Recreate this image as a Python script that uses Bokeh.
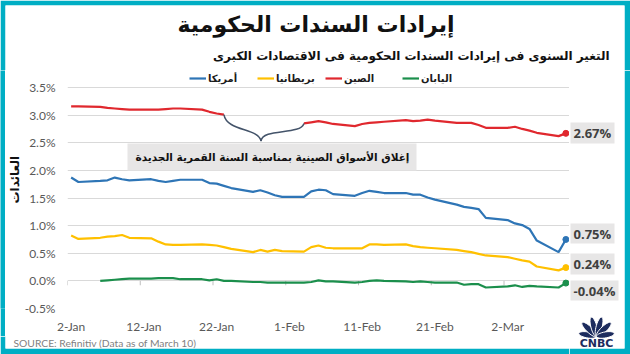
import numpy as np
import pandas as pd
from bokeh.plotting import figure
from bokeh.layouts import row, column
from bokeh.models import (Range1d, FixedTicker, PrintfTickFormatter, Label, BoxAnnotation,
                          Legend, LegendItem, Title)
from bokeh.core.properties import value
from bokeh.embed import file_html
from bokeh.resources import INLINE

# ---------------- data ----------------
start_date = "2020-01-02"
end_date = "2020-03-10"
dates = pd.bdate_range(start_date, end_date)  # trading days

usa = [1.87, 1.79, 1.81, 1.82, 1.87, 1.84, 1.82, 1.84, 1.81, 1.79, 1.81, 1.83, 1.83, 1.77, 1.76, 1.72,
       1.68, 1.61, 1.64, 1.60, 1.55, 1.52,
       1.52, 1.62, 1.65, 1.64, 1.57, 1.54, 1.59, 1.63, 1.61, 1.59, 1.59, 1.56, 1.56, 1.51, 1.47, 1.38,
       1.34, 1.32, 1.30, 1.14,
       1.10, 1.04, 1.01, 0.94, 0.73, 0.52, 0.75]
uk = [0.82, 0.76, 0.78, 0.80, 0.81, 0.83, 0.78, 0.77, 0.71, 0.66, 0.65, 0.65, 0.66, 0.65, 0.64, 0.61,
      0.58, 0.52, 0.56, 0.53, 0.56, 0.54,
      0.53, 0.61, 0.64, 0.60, 0.59, 0.59, 0.59, 0.66, 0.66, 0.65, 0.66, 0.63, 0.61, 0.60, 0.59, 0.56,
      0.54, 0.52, 0.49, 0.46,
      0.43, 0.40, 0.37, 0.35, 0.26, 0.19, 0.24]
china = [3.16, 3.16, 3.15, 3.13, 3.12, 3.11, 3.10, 3.10, 3.10, 3.11, 3.12, 3.12, 3.10, 3.06, 3.03, 3.01,
         None, None, None, None, None, None,
         2.85, 2.87, 2.89, 2.87, 2.84, 2.80, 2.84, 2.86, 2.87, 2.88, 2.91, 2.89, 2.90, 2.92, 2.90, 2.86,
         2.86, 2.86, 2.82, 2.77,
         2.77, 2.79, 2.75, 2.72, 2.68, 2.62, 2.67]
japan = [None, None, 0.00, 0.01, 0.02, 0.03, 0.04, 0.04, 0.05, 0.05, 0.05, 0.03, 0.03, 0.01, 0.03, 0.00,
         0.00, -0.02, -0.02, -0.03, -0.03, -0.03,
         -0.03, -0.02, 0.01, -0.01, -0.01, -0.03, -0.02, 0.00, 0.01, 0.00, -0.01, -0.02, -0.01, -0.02,
         -0.03, -0.03, -0.07, -0.06, -0.06, -0.12,
         -0.10, -0.08, -0.11, -0.09, -0.10, -0.12, -0.04]

series_names = ["أمريكا", "بريطانيا", "الصين", "اليابان"]
end_labels = ["0.75%", "0.24%", "2.67%", "-0.04%"]
x_tick_dates = ["2020-01-02", "2020-01-12", "2020-01-22", "2020-02-01", "2020-02-11",
                "2020-02-21", "2020-03-02"]
x_tick_labels = ["2-Jan", "12-Jan", "22-Jan", "1-Feb", "11-Feb", "21-Feb", "2-Mar"]
y_ticks = [-0.5, 0.0, 0.5, 1.0, 1.5, 2.0, 2.5, 3.0, 3.5]

title_text = "إيرادات السندات الحكومية"
subtitle_text = "التغير السنوى فى إيرادات السندات الحكومية فى الاقتصادات الكبرى"
y_title_text = "العائدات"
note_text = "إغلاق الأسواق الصينية بمناسبة السنة القمرية الجديدة"
source_text = "SOURCE: Refinitiv (Data as of March 10)"
logo_text = "CNBC"

# ---------------- styles / layout constants (canvas pixels) ----------------
colors = ["#2E75B6", "#FFC000", "#E0282E", "#1B8F4C"]
teal = "#00AEC4"
navy = "#1D2C5E"
AR = "DejaVu Sans"
LAT = "Lato"
CW, CH = 630, 354
HB = 70      # header bottom = main canvas top = frame top
GT = 87      # canvas y of the 3.5% gridline
FBm = 308    # frame bottom (canvas), -0.5%
FL = 63      # frame left (canvas)
FOOT = 336   # top of footer
Y_LO, Y_HI_TICK = -0.5, 3.5
PX_PER_UNIT = (FBm - GT) / (Y_HI_TICK - Y_LO)
Y_TOP = Y_LO + (FBm - HB) / PX_PER_UNIT


def Y(cy):
    # canvas y (top-down) -> data y (bottom-up) for the decoration panels
    return CH - cy


def blank(width, height, x0, x1, cy_top, cy_bot, bl=0, br=0, bt=0, bb=0):
    f = figure(width=width, height=height, x_range=Range1d(x0, x1),
               y_range=Range1d(Y(cy_bot), Y(cy_top)),
               min_border_left=bl, min_border_right=br, min_border_top=bt, min_border_bottom=bb,
               x_axis_type=None, y_axis_type=None, output_backend="svg", toolbar_location=None)
    f.outline_line_color = None
    f.border_fill_color = teal
    f.background_fill_color = "white"
    f.xgrid.visible = False
    f.ygrid.visible = False
    return f


t0 = pd.Timestamp(start_date)
day = np.array([(d - t0).days for d in dates], dtype=float)
tick_days = [int((pd.Timestamp(d) - t0).days) for d in x_tick_dates]


def arr(v):
    return np.array([np.nan if a is None else a for a in v], dtype=float)


series = [arr(usa), arr(uk), arr(china), arr(japan)]

# ---------------- header: title, subtitle ----------------
hdr = blank(630, HB, 5, 624, 5, HB, bl=5, br=6, bt=5, bb=0)
hdr.text(x=[315.5], y=[Y(24)], text=[title_text], text_font=value(AR), text_font_style="bold",
         text_font_size=value("22px"), text_align="center", text_baseline="middle",
         text_color="#111111")
hdr.text(x=[609], y=[Y(55)], text=[subtitle_text], text_font=value(AR), text_font_style="bold",
         text_font_size=value("12px"), text_align="right", text_baseline="middle",
         text_color="#111111")

# ---------------- main chart ----------------
fig = figure(width=569 - 5, height=FOOT - HB, x_range=Range1d(-0.5, 68.5),
             y_range=Range1d(Y_LO, Y_TOP),
             min_border_left=FL - 5, min_border_right=0, min_border_top=0,
             min_border_bottom=FOOT - FBm, output_backend="svg", toolbar_location=None)
fig.outline_line_color = None
fig.border_fill_color = "white"
fig.background_fill_color = "white"

fig.xaxis.ticker = FixedTicker(ticks=tick_days)
fig.xaxis.major_label_overrides = {k: v for k, v in zip(tick_days, x_tick_labels)}
fig.xaxis.axis_line_color = None
fig.xaxis.major_tick_line_color = None
fig.xaxis.minor_tick_line_color = None
fig.xaxis.major_tick_out = 0
fig.xaxis.major_tick_in = 0
fig.xaxis.major_label_standoff = 10
fig.xaxis.major_label_text_font = LAT
fig.xaxis.major_label_text_font_size = "12px"
fig.xaxis.major_label_text_color = "#595959"

fig.yaxis.ticker = FixedTicker(ticks=y_ticks)
fig.yaxis.formatter = PrintfTickFormatter(format="%.1f%%")
fig.yaxis.axis_line_color = None
fig.yaxis.major_tick_line_color = None
fig.yaxis.minor_tick_line_color = None
fig.yaxis.major_tick_out = 0
fig.yaxis.major_tick_in = 0
fig.yaxis.major_label_standoff = 12
fig.yaxis.major_label_text_font = LAT
fig.yaxis.major_label_text_font_size = "12px"
fig.yaxis.major_label_text_color = "#595959"

fig.xgrid.visible = False
fig.ygrid.ticker = FixedTicker(ticks=y_ticks)
fig.ygrid.grid_line_color = "#D9D9D9"
fig.ygrid.grid_line_width = 1

# vertical axis title (left panel)
fig.add_layout(Title(text=y_title_text, align="left", offset=105, standoff=0,
                     text_font=AR, text_font_style="bold", text_font_size="12px",
                     text_color="#111111"), "left")

# small tick marks on the zero line
tk = np.array(tick_days, dtype=float) - 0.5
fig.segment(x0=tk, y0=np.zeros_like(tk), x1=tk, y1=np.full_like(tk, -0.08),
            line_color="#BFBFBF", line_width=1)

# annotation box (frame-relative screen units)
fig.add_layout(BoxAnnotation(left=123 - FL, right=412 - FL, top=FBm - 143, bottom=FBm - 170,
                             left_units="screen", right_units="screen",
                             top_units="screen", bottom_units="screen",
                             fill_color="#E7E6E6", fill_alpha=1, line_color=None,
                             level="underlay"))
fig.add_layout(Label(x=268 - FL, y=FBm - 156.5, x_units="screen", y_units="screen",
                     text=note_text, text_font=AR, text_font_style="bold",
                     text_font_size="10.5px", text_align="center", text_baseline="middle",
                     text_color="#111111"))

renderers = []
for s, c in zip(series, colors):
    r = fig.line(day, s, line_color=c, line_width=2.2)
    renderers.append(r)
    fig.scatter([day[-1]], [s[-1]], size=6, fill_color=c, line_color=c)

# legend row (inside the frame's top strip), one legend per series
leg_x0 = [185, 253, 321, 398]
for name, r, lx in zip(series_names, renderers, leg_x0):
    fig.add_layout(Legend(items=[LegendItem(label=name, renderers=[r])],
                          location=(lx - FL, FBm - 84), orientation="horizontal",
                          glyph_width=17, glyph_height=12, label_height=12, label_width=10,
                          label_standoff=2, padding=0, margin=0, spacing=0,
                          border_line_color=None, background_fill_alpha=0,
                          label_text_font=AR, label_text_font_style="bold",
                          label_text_font_size="10px", label_text_color="#1A1A1A"))

# brace over the Chinese market closure gap (derived from red series)
ch = series[2]
gap_idx = np.where(np.isnan(ch))[0]
i0 = gap_idx[0] - 1
i1 = gap_idx[-1] + 1
xl, yl = day[i0], ch[i0]
xr, yr = day[i1], ch[i1]
xm = (xl + xr) / 2 - 0.4
ytip = yr - 0.32
fig.bezier(x0=[xl, xm], y0=[yl, ytip], x1=[xm, xr], y1=[ytip, yr],
           cx0=[xl + 0.4, xm + 0.2], cy0=[yl - 0.31, ytip + 0.24],
           cx1=[xm - 0.3, xr - 0.5], cy1=[ytip + 0.24, yr - 0.22],
           line_color="#44546A", line_width=1.5)

# ---------------- left teal edge ----------------
lstrip = blank(5, FOOT - HB, 0, 5, HB, FOOT)
lstrip.background_fill_color = teal

# ---------------- footer: source ----------------
ftr = blank(569, CH - FOOT, 5, 569, FOOT, 348, bl=5, bb=6)
ftr.text(x=[13], y=[Y(342)], text=[source_text], text_font=value(LAT),
         text_font_size=value("10.3px"), text_align="left", text_baseline="middle",
         text_color="#7F7F7F")

# ---------------- right strip: end labels + logo ----------------
rf = blank(61, CH - HB, 569, 624, HB, 348, br=6, bb=6)
box_top = [223, 253, 122, 280]
box_bot = [243, 274, 143, 300]
box_right = [614, 614, 614, 618]
rf.quad(left=[570] * 4, right=box_right, top=[Y(v) for v in box_top],
        bottom=[Y(v) for v in box_bot], fill_color="#E7E6E6", line_color=None)
rf.text(x=[573] * 4, y=[Y((a + b) / 2) for a, b in zip(box_top, box_bot)], text=end_labels,
        text_font=value("Open Sans"), text_font_style="bold", text_font_size=value("13px"),
        text_align="left", text_baseline="middle", text_color="#404040")

bx, by = 596, 336
angles = [170, 136, 105, 75, 44, 10]
lengths = [18, 20, 20, 20, 20, 18]
tt = np.linspace(0, 2 * np.pi, 30)
pxs, pys = [], []
for a, ln in zip(angles, lengths):
    ar = np.deg2rad(a)
    ux, uy = np.cos(ar), np.sin(ar)
    cxp = bx + ux * ln / 2
    cyp = by - uy * ln / 2
    ex = (ln / 2) * np.cos(tt)
    ey = 3.0 * np.sin(tt)
    pxs.append(list(cxp + ex * ux - ey * uy))
    pys.append(list(Y(cyp - (ex * uy + ey * ux))))
rf.patches(pxs, pys, fill_color=navy, line_color="white", line_width=1)
rf.text(x=[596], y=[Y(342.5)], text=[logo_text], text_font=value(AR), text_font_style="bold",
        text_font_size=value("11px"), text_align="center", text_baseline="middle",
        text_color=navy)

p = column(hdr, row(column(row(lstrip, fig, spacing=0), ftr, spacing=0), rf, spacing=0),
           spacing=0)

open("out.html", "w").write(file_html(p, INLINE))
